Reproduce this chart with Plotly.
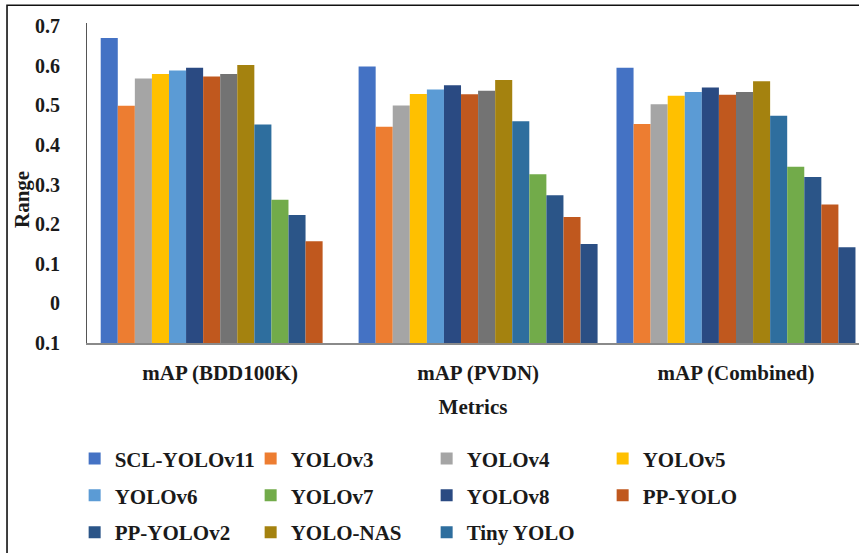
import plotly.graph_objects as go

# Metric groups on the x axis
metrics = ["mAP (BDD100K)", "mAP (PVDN)", "mAP (Combined)"]

# mAP values per bar series (None = no bar in that group)
scl_yolov11 = [0.670, 0.598, 0.595]
yolov3 = [0.499, 0.446, 0.453]
yolov4 = [0.568, 0.500, 0.503]
yolov5 = [0.579, 0.529, 0.524]
yolov6 = [0.588, 0.540, 0.534]
yolov8 = [0.595, 0.551, 0.545]
pp_yolo = [0.573, 0.528, 0.527]
extra_gray = [0.579, 0.537, 0.534]
yolo_nas = [0.602, 0.564, 0.561]
tiny_yolo = [0.452, 0.460, 0.474]
yolov7 = [0.262, 0.326, 0.345]
pp_yolov2 = [0.223, 0.273, 0.319]
extra_orange = [0.157, 0.218, 0.250]
extra_blue = [None, 0.150, 0.142]

# y axis ticks (axis starts at -0.1)
y_ticks = [-0.1, 0.0, 0.1, 0.2, 0.3, 0.4, 0.5, 0.6, 0.7]
y_tick_text = ["0.1", "0", "0.1", "0.2", "0.3", "0.4", "0.5", "0.6", "0.7"]
AXIS_MIN = -0.1

# (name, values, colour, legend id, legend order, show in legend)
series = [
    ("SCL-YOLOv11", scl_yolov11, "#4472C4", "legend", 1, True),
    ("YOLOv3", yolov3, "#ED7D31", "legend", 2, True),
    ("YOLOv4", yolov4, "#A5A5A5", "legend", 3, True),
    ("YOLOv5", yolov5, "#FFC000", "legend", 4, True),
    ("YOLOv6", yolov6, "#5B9BD5", "legend2", 1, True),
    ("YOLOv8", yolov8, "#2A4A82", "legend2", 3, True),
    ("PP-YOLO", pp_yolo, "#C0581E", "legend2", 4, True),
    ("Other", extra_gray, "#737373", "legend3", 9, False),
    ("YOLO-NAS", yolo_nas, "#A4820F", "legend3", 2, True),
    ("Tiny YOLO", tiny_yolo, "#2E6E9E", "legend3", 3, True),
    ("YOLOv7", yolov7, "#72AB4A", "legend2", 2, True),
    ("PP-YOLOv2", pp_yolov2, "#2B5588", "legend3", 1, True),
    ("Other 2", extra_orange, "#C0581E", "legend3", 9, False),
    ("Other 3", extra_blue, "#2B4F84", "legend3", 9, False),
]

fig = go.Figure()
for name, vals, color, leg, rank, show in series:
    heights = [None if v is None else v - AXIS_MIN for v in vals]
    fig.add_trace(go.Bar(
        x=metrics, y=heights, base=AXIS_MIN, name="<b>%s</b>" % name,
        marker=dict(color=color, line=dict(width=0)),
        legend=leg, legendrank=rank, showlegend=show,
    ))

FONT = "Liberation Serif"
TEXT = "#1a1a1a"
legend_common = dict(
    orientation="h", xanchor="left", yanchor="top",
    entrywidth=131, entrywidthmode="pixels",
    font=dict(family=FONT, size=21, color=TEXT),
    bgcolor="rgba(0,0,0,0)", itemwidth=30, traceorder="normal",
)

fig.update_layout(
    width=859, height=553,
    margin=dict(l=87, r=0, t=23, b=210),
    paper_bgcolor="white", plot_bgcolor="white",
    barmode="group", bargap=0.0733, bargroupgap=0,
    font=dict(family=FONT, size=20, color=TEXT),
    legend=dict(x=-0.016, y=-0.298, **legend_common),
    legend2=dict(x=-0.016, y=-0.413, **legend_common),
    legend3=dict(x=-0.016, y=-0.529, **legend_common),
    xaxis=dict(
        range=[-0.5165, 2.477], showline=True, linecolor="#8a8a8a", linewidth=2,
        ticks="", tickfont=dict(family=FONT, size=21, color=TEXT),
        ticklabelstandoff=10,
        title=dict(text="<b>Metrics</b>", font=dict(family=FONT, size=21), standoff=15),
        tickprefix="<b>", ticksuffix="</b>",
    ),
    yaxis=dict(
        range=[AXIS_MIN, 0.708], showline=True, linecolor="#555555", linewidth=1.2,
        showgrid=False, zeroline=False, ticks="",
        tickvals=y_ticks, ticktext=["<b>%s</b>" % t for t in y_tick_text],
        tickfont=dict(family=FONT, size=20, color=TEXT),
        ticklabelstandoff=22,
    ),
    showlegend=True,
)

# y axis title, set a little below the middle of the axis
fig.add_annotation(text="<b>Range</b>", textangle=-90, showarrow=False,
                   xref="paper", yref="paper", x=(22 - 87) / 772, y=(343 - 200) / 320,
                   xanchor="center", yanchor="middle",
                   font=dict(family=FONT, size=21, color=TEXT))

# Frame lines along the top and left edges of the figure
fig.add_shape(type="path", xref="paper", yref="paper",
              path="M -0.1036,-0.66 L -0.1036,1.0553 L 1.0,1.0553",
              line=dict(color="#111111", width=1.6))

fig.write_html("out.html")
